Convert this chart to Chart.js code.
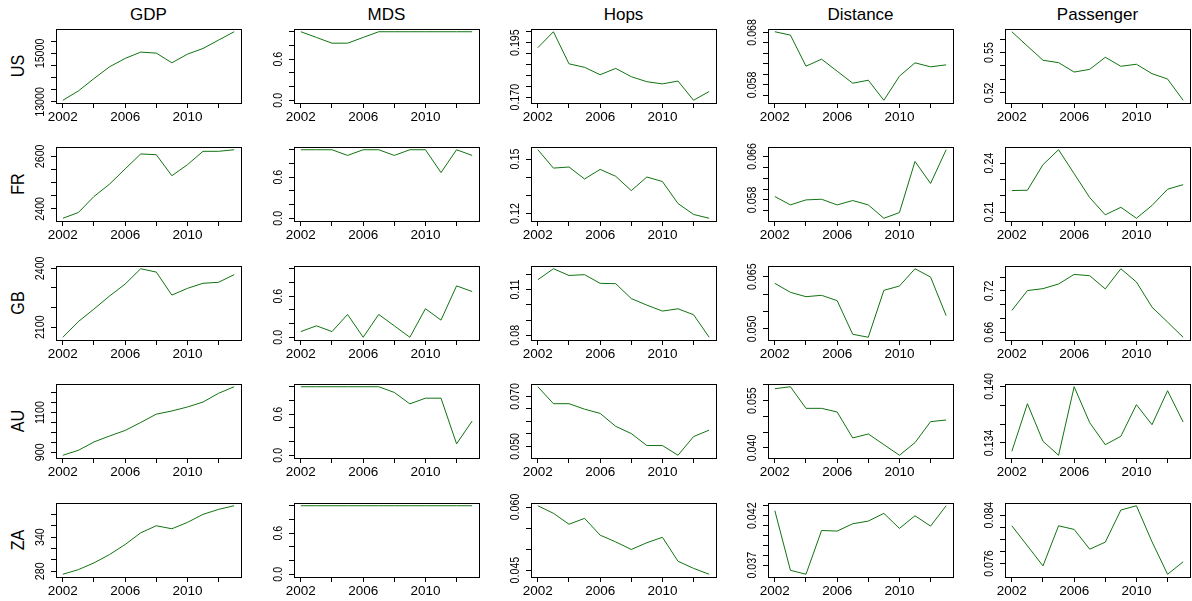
<!DOCTYPE html>
<html>
<head>
<meta charset="utf-8">
<script src="https://cdn.jsdelivr.net/npm/chart.js@4.4.1/dist/chart.umd.min.js"></script>
<style>
  body { margin: 0; background: #fff; }
  #page { position: relative; width: 1192px; height: 601px; overflow: hidden; font-family: "Liberation Sans", Arial, Helvetica, sans-serif; color: #000; }
  .cell { position: absolute; }
  .title { position: absolute; font-size: 17px; transform: translate(-50%, -50%); white-space: nowrap; }
  .row { position: absolute; font-size: 19px; transform: translate(-50%, -50%) rotate(-90deg) scale(0.85, 1); white-space: nowrap; }
</style>
</head>
<body>
<div id="page"></div>
<script>
// --- DATA ---
const years = [2002, 2003, 2004, 2005, 2006, 2007, 2008, 2009, 2010, 2011, 2012, 2013];
const xTicks = [2002, 2004, 2006, 2008, 2010, 2012];
const xLabels = [2002, 2006, 2010];
const countries = ['US', 'FR', 'GB', 'AU', 'ZA'];
const measures = ['GDP', 'MDS', 'Hops', 'Distance', 'Passenger'];

const gdpUS = [13070, 13455, 13965, 14450, 14795, 15055, 15015, 14615, 14970, 15205, 15550, 15895];
const gdpFR = [2364, 2386, 2447, 2494, 2552, 2609, 2606, 2526, 2568, 2619, 2619, 2625];
const gdpGB = [2049, 2129, 2193, 2259, 2320, 2398, 2381, 2264, 2298, 2324, 2329, 2368];
const gdpAU = [885, 910, 952, 982, 1010, 1050, 1092, 1108, 1128, 1153, 1197, 1230];
const gdpZA = [274.7, 282.9, 294.7, 309.4, 327.0, 347.6, 360.0, 354.7, 365.9, 380.0, 388.8, 395.2];

const mdsUS = [1, 0.917, 0.833, 0.833, 0.917, 1, 1, 1, 1, 1, 1, 1];
const mdsFR = [1, 1, 1, 0.917, 1, 1, 0.917, 1, 1, 0.667, 1, 0.917];
const mdsGB = [0.083, 0.167, 0.083, 0.333, 0, 0.333, 0.167, 0, 0.417, 0.25, 0.75, 0.667];
const mdsAU = [1, 1, 1, 1, 1, 1, 0.917, 0.75, 0.833, 0.833, 0.167, 0.5];
const mdsZA = [1, 1, 1, 1, 1, 1, 1, 1, 1, 1, 1, 1];

const hopsUS = [0.1927, 0.2000, 0.1853, 0.1837, 0.1803, 0.1832, 0.1794, 0.1771, 0.1761, 0.1774, 0.1686, 0.1726];
const hopsFR = [0.1551, 0.1450, 0.1456, 0.1390, 0.1443, 0.1405, 0.1326, 0.1401, 0.1376, 0.1255, 0.1195, 0.1174];
const hopsGB = [0.1165, 0.1237, 0.1193, 0.1198, 0.1141, 0.1139, 0.1041, 0.0998, 0.0959, 0.0974, 0.0935, 0.0787];
const hopsAU = [0.0739, 0.0671, 0.0671, 0.0649, 0.0632, 0.0580, 0.0551, 0.0503, 0.0503, 0.0464, 0.0539, 0.0565];
const hopsZA = [0.0603, 0.0585, 0.0559, 0.0573, 0.0533, 0.0517, 0.0499, 0.0515, 0.0528, 0.0471, 0.0454, 0.0440];

const distUS = [0.06813, 0.06749, 0.06157, 0.06290, 0.06061, 0.05832, 0.05889, 0.05507, 0.05966, 0.06220, 0.06144, 0.06182];
const distFR = [0.05862, 0.05708, 0.05800, 0.05812, 0.05708, 0.05788, 0.05708, 0.05462, 0.05566, 0.06508, 0.06102, 0.06723];
const distGB = [0.06310, 0.06052, 0.05927, 0.05966, 0.05813, 0.04847, 0.04761, 0.06109, 0.06233, 0.06730, 0.06491, 0.05382];
const distAU = [0.05874, 0.05937, 0.05253, 0.05253, 0.05137, 0.04316, 0.04442, 0.04105, 0.03768, 0.04168, 0.04832, 0.04884];
const distZA = [0.04251, 0.03649, 0.03609, 0.04051, 0.04045, 0.04119, 0.04146, 0.04224, 0.04072, 0.04200, 0.04095, 0.04301];

const passUS = [0.5655, 0.5548, 0.5443, 0.5425, 0.5355, 0.5375, 0.5465, 0.5398, 0.5413, 0.5343, 0.5303, 0.5145];
const passFR = [0.2232, 0.2234, 0.2390, 0.2481, 0.2335, 0.2189, 0.2084, 0.2130, 0.2063, 0.2141, 0.2240, 0.2268];
const passGB = [0.6916, 0.7204, 0.7232, 0.7299, 0.7438, 0.7419, 0.7228, 0.7520, 0.7328, 0.6964, 0.6748, 0.6528];
const passAU = [0.13312, 0.13816, 0.13418, 0.13270, 0.13996, 0.13615, 0.13382, 0.13471, 0.13806, 0.13594, 0.13954, 0.13622];
const passZA = [0.08223, 0.07892, 0.07561, 0.08223, 0.08163, 0.07837, 0.07953, 0.08483, 0.08554, 0.07959, 0.07423, 0.07628];

// y tick marks and the labels R kept, rows in country order
const yTicksGDP = [[13000, 13500, 14000, 14500, 15000, 15500], [2400, 2450, 2500, 2550, 2600], [2100, 2200, 2300, 2400], [900, 950, 1000, 1050, 1100, 1150, 1200], [280, 300, 320, 340, 360, 380]];
const yLabelsGDP = [['13000', '15000'], ['2400', '2600'], ['2100', '2400'], ['900', '1100'], ['280', '340']];
const yTicksMDS = [[0, 0.2, 0.4, 0.6, 0.8, 1], [0, 0.2, 0.4, 0.6, 0.8, 1], [0, 0.2, 0.4, 0.6, 0.8, 1], [0, 0.2, 0.4, 0.6, 0.8, 1], [0, 0.2, 0.4, 0.6, 0.8, 1]];
const yLabelsMDS = [['0.0', '0.6'], ['0.0', '0.6'], ['0.0', '0.6'], ['0.0', '0.6'], ['0.0', '0.6']];
const yTicksHops = [[0.170, 0.175, 0.180, 0.185, 0.190, 0.195, 0.200], [0.12, 0.13, 0.14, 0.15], [0.08, 0.09, 0.10, 0.11, 0.12], [0.050, 0.055, 0.060, 0.065, 0.070], [0.045, 0.050, 0.055, 0.060]];
const yLabelsHops = [['0.170', '0.195'], ['0.12', '0.15'], ['0.08', '0.11'], ['0.050', '0.070'], ['0.045', '0.060']];
const yTicksDist = [[0.056, 0.058, 0.060, 0.062, 0.064, 0.066, 0.068], [0.056, 0.058, 0.060, 0.062, 0.064, 0.066], [0.050, 0.055, 0.060, 0.065], [0.040, 0.045, 0.050, 0.055, 0.060], [0.037, 0.038, 0.039, 0.040, 0.041, 0.042, 0.043]];
const yLabelsDist = [['0.058', '0.068'], ['0.058', '0.066'], ['0.050', '0.065'], ['0.040', '0.055'], ['0.037', '0.042']];
const yTicksPass = [[0.52, 0.53, 0.54, 0.55, 0.56], [0.21, 0.22, 0.23, 0.24], [0.66, 0.68, 0.70, 0.72, 0.74], [0.134, 0.136, 0.138, 0.140], [0.076, 0.078, 0.080, 0.082, 0.084]];
const yLabelsPass = [['0.52', '0.55'], ['0.21', '0.24'], ['0.66', '0.72'], ['0.134', '0.140'], ['0.076', '0.084']];

// --- LAYOUT ---
const boxLeft = [56, 294, 531, 768, 1005];
const boxTop = [29, 147, 266, 384, 503];
const BOX_W = 185, BOX_H = 74, AXIS_W = 50, AXIS_H = 30, PAD = 4, HEAD = 22;
const LINE = '#117311';
const FONT = '"Liberation Sans", Arial, Helvetica, sans-serif';

const series = [
    [gdpUS, mdsUS, hopsUS, distUS, passUS],
    [gdpFR, mdsFR, hopsFR, distFR, passFR],
    [gdpGB, mdsGB, hopsGB, distGB, passGB],
    [gdpAU, mdsAU, hopsAU, distAU, passAU],
    [gdpZA, mdsZA, hopsZA, distZA, passZA]
];
const yTicks = [yTicksGDP, yTicksMDS, yTicksHops, yTicksDist, yTicksPass];
const yLabels = [yLabelsGDP, yLabelsMDS, yLabelsHops, yLabelsDist, yLabelsPass];

// R style: data range plus 4% each side
function rRange(vals, m) {
    let lo = Math.min(...vals), hi = Math.max(...vals);
    if (measures[m] === 'MDS') { lo = 0; hi = 1; }
    const d = (hi - lo) * 0.04;
    return [lo - d, hi + d];
}

// box round the plot region
const boxPlugin = {
    id: 'rbox',
    afterDraw(chart) {
        const a = chart.chartArea, ctx = chart.ctx;
        ctx.save();
        ctx.strokeStyle = '#000';
        ctx.lineWidth = 1;
        ctx.strokeRect(Math.round(a.left) + 0.5, Math.round(a.top) + 0.5, Math.round(a.right - a.left), Math.round(a.bottom - a.top));
        ctx.restore();
    }
};

// rotated y tick labels, placed by the y scale
const yLabelPlugin = {
    id: 'ylab',
    afterDraw(chart, args, opts) {
        const s = chart.scales.y, ctx = chart.ctx;
        const x = chart.chartArea.left - 17;
        ctx.save();
        ctx.fillStyle = '#000';
        ctx.font = '13px ' + FONT;
        ctx.textAlign = 'center';
        ctx.textBaseline = 'alphabetic';
        opts.labels.forEach(t => {
            const y = s.getPixelForValue(Number(t));
            ctx.save();
            ctx.translate(x, y);
            ctx.rotate(-Math.PI / 2);
            ctx.scale(0.82, 1);
            ctx.fillText(t, 0, 4.6);
            ctx.restore();
        });
        ctx.restore();
    }
};

const page = document.getElementById('page');

measures.forEach((name, c) => {
    const t = document.createElement('div');
    t.className = 'title';
    t.textContent = name;
    t.style.left = (boxLeft[c] + BOX_W / 2) + 'px';
    t.style.top = '15px';
    page.appendChild(t);
});

countries.forEach((name, r) => {
    const t = document.createElement('div');
    t.className = 'row';
    t.textContent = name;
    t.style.left = '18px';
    t.style.top = (boxTop[r] + BOX_H / 2) + 'px';
    page.appendChild(t);
});

const tickGrid = { display: true, drawOnChartArea: false, drawTicks: true, tickLength: 5, color: '#000', tickColor: '#000', lineWidth: 1 };

for (let r = 0; r < countries.length; r++) {
    for (let c = 0; c < measures.length; c++) {
        const vals = series[r][c];
        const [lo, hi] = rRange(vals, c);
        const ticks = yTicks[c][r].filter(v => v >= lo && v <= hi);

        const cell = document.createElement('div');
        cell.className = 'cell';
        const w = AXIS_W + BOX_W + PAD, h = HEAD + BOX_H + AXIS_H;
        cell.style.left = (boxLeft[c] - AXIS_W) + 'px';
        cell.style.top = (boxTop[r] - HEAD) + 'px';
        cell.style.width = w + 'px';
        cell.style.height = h + 'px';
        const cv = document.createElement('canvas');
        cv.width = w; cv.height = h;
        cv.style.width = w + 'px'; cv.style.height = h + 'px';
        cell.appendChild(cv);
        page.appendChild(cell);

        new Chart(cv, {
            type: 'line',
            data: {
                datasets: [{
                    data: vals.map((v, i) => ({ x: years[i], y: v })),
                    borderColor: LINE,
                    borderWidth: 1,
                    pointRadius: 0,
                    tension: 0,
                    fill: false
                }]
            },
            options: {
                responsive: false,
                animation: false,
                events: [],
                layout: { padding: { top: HEAD, right: PAD, left: 0, bottom: 0 } },
                plugins: {
                    legend: { display: false },
                    tooltip: { enabled: false },
                    ylab: { labels: yLabels[c][r] }
                },
                scales: {
                    x: {
                        type: 'linear',
                        min: years[0] - 0.44,
                        max: years[years.length - 1] + 0.44,
                        afterBuildTicks: s => { s.ticks = xTicks.map(v => ({ value: v })); },
                        afterFit: s => { s.height = AXIS_H; },
                        ticks: {
                            autoSkip: false, maxRotation: 0, minRotation: 0, padding: 1,
                            color: '#000', font: { family: FONT, size: 13.5 },
                            callback: v => xLabels.includes(v) ? String(v) : ''
                        },
                        grid: tickGrid,
                        border: { display: false }
                    },
                    y: {
                        type: 'linear',
                        min: lo,
                        max: hi,
                        afterBuildTicks: s => { s.ticks = ticks.map(v => ({ value: v })); },
                        afterFit: s => { s.width = AXIS_W; },
                        ticks: { display: false },
                        grid: tickGrid,
                        border: { display: false }
                    }
                }
            },
            plugins: [boxPlugin, yLabelPlugin]
        });
    }
}
</script>
</body>
</html>
